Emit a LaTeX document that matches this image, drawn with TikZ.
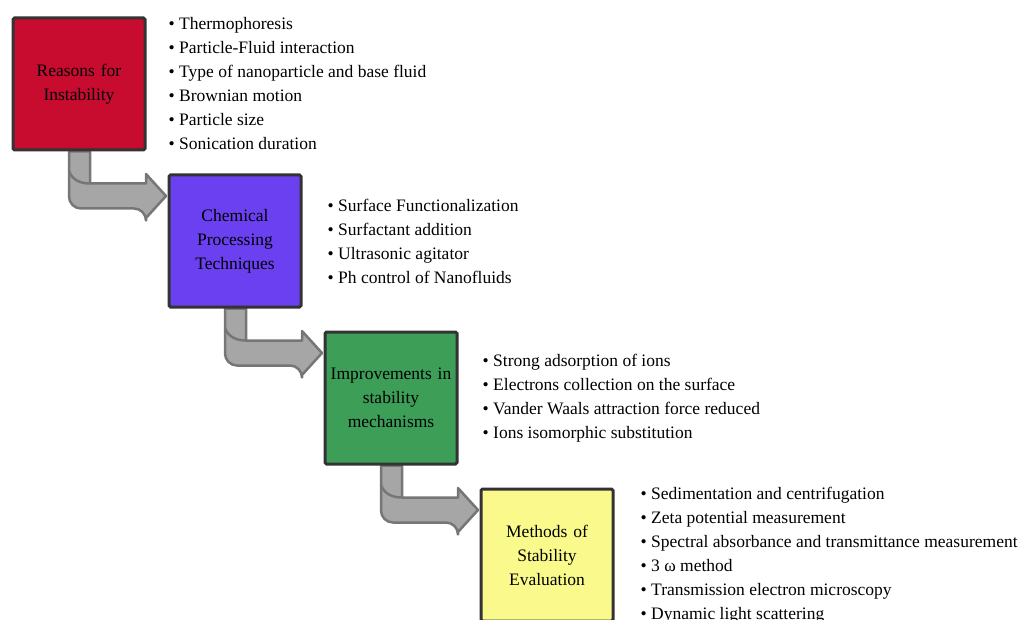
\documentclass[tikz,border=0pt]{standalone}
\usepackage{fontspec}
\setmainfont{Liberation Serif}
\usepackage{xcolor}
\usetikzlibrary{positioning,calc,backgrounds}
\definecolor{reasonsred}{RGB}{200,12,48}
\definecolor{chempurple}{RGB}{106,64,240}
\definecolor{improvegreen}{RGB}{61,158,88}
\definecolor{methodsyellow}{RGB}{250,250,140}
\definecolor{boxline}{RGB}{51,51,51}
\definecolor{arrowfill}{RGB}{166,166,166}
\definecolor{arrowline}{RGB}{118,118,118}

\begin{document}
\begin{tikzpicture}[
    x=1pt, y=1pt,
    font=\fontsize{17.5}{24}\selectfont,
    box/.style={rectangle, draw=boxline, line width=3pt, rounded corners=1.5pt, minimum width=132pt, minimum height=132pt, text width=128pt, align=center, inner sep=0pt},
    items/.style={align=left, inner sep=0pt, anchor=west},
    bent/.style={fill=arrowfill, draw=arrowline, line width=2.5pt, line join=round}
]
\useasboundingbox (0,0) rectangle (1027,-620);

\node[box, fill=reasonsred, anchor=north west] (reasons) at (11.5,-16.5) {Reasons for\\Instability};
\node[box, fill=chempurple, below right=22pt and 21pt of reasons] (chemical) {Chemical\\Processing\\Techniques};
\node[box, fill=improvegreen, below right=22pt and 21pt of chemical] (improve) {Improvements in\\stability\\mechanisms};
\node[box, fill=methodsyellow, below right=22pt and 21pt of improve] (methods) {Methods of\\Stability\\Evaluation};

\node[items, right=22pt of reasons] (reasonslist) {\textbullet~Thermophoresis\\\textbullet~Particle-Fluid interaction\\\textbullet~Type of nanoparticle and base fluid\\\textbullet~Brownian motion\\\textbullet~Particle size\\\textbullet~Sonication duration};
\node[items, right=25pt of chemical] (chemicallist) {\textbullet~Surface Functionalization\\\textbullet~Surfactant addition\\\textbullet~Ultrasonic agitator\\\textbullet~Ph control of Nanofluids};
\node[items, right=24pt of improve] (improvelist) {\textbullet~Strong adsorption of ions\\\textbullet~Electrons collection on the surface\\\textbullet~Vander Waals attraction force reduced\\\textbullet~Ions isomorphic substitution};
\node[items, right=26pt of methods] (methodslist) {\textbullet~Sedimentation and centrifugation\\\textbullet~Zeta potential measurement\\\textbullet~Spectral absorbance and transmittance measurement\\\textbullet~3 ω method\\\textbullet~Transmission electron microscopy\\\textbullet~Dynamic light scattering};

\begin{scope}[on background layer]
\foreach \a/\b in {reasons/chemical, chemical/improve, improve/methods}{
  \path[bent] let \p1=(\a.south west), \p2=($(\b.north west)+(-1.5pt,-22.5pt)$) in
    (\x1+57.5pt,\y1) [rounded corners=12pt] -- (\x1+57.5pt,\y2-12.5pt) -- (\x2-20pt,\y2-12.5pt) [sharp corners]
    -- (\x2-20pt,\y2-22pt) -- (\x2,\y2) -- (\x2-20pt,\y2+22pt) -- (\x2-20pt,\y2+12.5pt)
    -- (\x1+78.5pt,\y2+12.5pt) -- (\x1+78.5pt,\y1) -- cycle;
  \draw[draw=arrowline, line width=2.5pt] let \p1=(\a.south west), \p2=($(\b.north west)+(-1.5pt,-22.5pt)$) in
    (\x1+57.5pt,\y2+25pt) to[out=-70, in=180] (\x1+78.5pt,\y2+12.5pt);
}
\end{scope}
\end{tikzpicture}
\end{document}
